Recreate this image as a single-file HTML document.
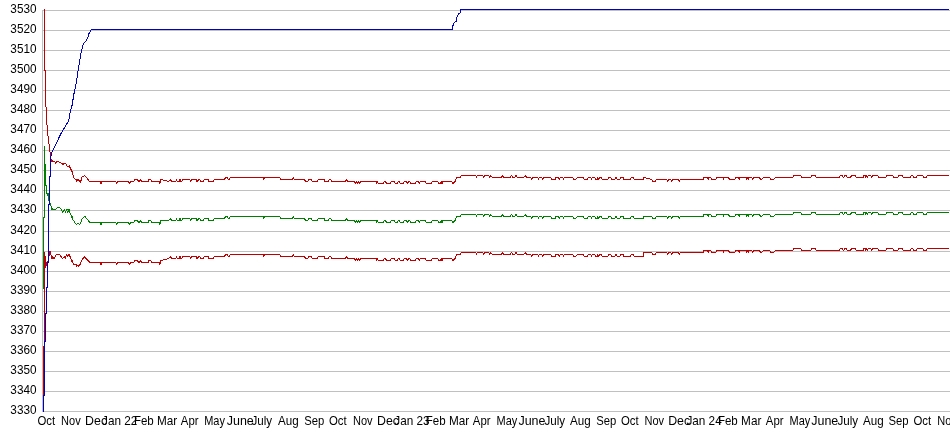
<!DOCTYPE html><html><head><meta charset="utf-8"><title>Chart</title><style>html,body{margin:0;padding:0;background:#fff}svg{display:block}text{font-family:"Liberation Sans",Arial,sans-serif;font-size:12px;fill:#000}</style></head><body>
<svg width="950" height="435" viewBox="0 0 950 435">
<rect width="950" height="435" fill="#fff"/>
<g shape-rendering="crispEdges" stroke="#c0c0c0" stroke-width="1" fill="none">
<line x1="43" y1="10.5" x2="950" y2="10.5"/>
<line x1="43" y1="30.5" x2="950" y2="30.5"/>
<line x1="43" y1="50.5" x2="950" y2="50.5"/>
<line x1="43" y1="70.5" x2="950" y2="70.5"/>
<line x1="43" y1="90.5" x2="950" y2="90.5"/>
<line x1="43" y1="110.5" x2="950" y2="110.5"/>
<line x1="43" y1="130.5" x2="950" y2="130.5"/>
<line x1="43" y1="150.5" x2="950" y2="150.5"/>
<line x1="43" y1="170.5" x2="950" y2="170.5"/>
<line x1="43" y1="190.5" x2="950" y2="190.5"/>
<line x1="43" y1="210.5" x2="950" y2="210.5"/>
<line x1="43" y1="231.5" x2="950" y2="231.5"/>
<line x1="43" y1="251.5" x2="950" y2="251.5"/>
<line x1="43" y1="271.5" x2="950" y2="271.5"/>
<line x1="43" y1="291.5" x2="950" y2="291.5"/>
<line x1="43" y1="311.5" x2="950" y2="311.5"/>
<line x1="43" y1="331.5" x2="950" y2="331.5"/>
<line x1="43" y1="351.5" x2="950" y2="351.5"/>
<line x1="43" y1="371.5" x2="950" y2="371.5"/>
<line x1="43" y1="391.5" x2="950" y2="391.5"/>
<line x1="43" y1="411.5" x2="950" y2="411.5"/>
<line x1="42.5" y1="10" x2="42.5" y2="412"/>
</g>
<g text-anchor="end">
<text transform="translate(36.5 13) scale(0.98 1)">3530</text>
<text transform="translate(36.5 33) scale(0.98 1)">3520</text>
<text transform="translate(36.5 53) scale(0.98 1)">3510</text>
<text transform="translate(36.5 73) scale(0.98 1)">3500</text>
<text transform="translate(36.5 93) scale(0.98 1)">3490</text>
<text transform="translate(36.5 113) scale(0.98 1)">3480</text>
<text transform="translate(36.5 133) scale(0.98 1)">3470</text>
<text transform="translate(36.5 153) scale(0.98 1)">3460</text>
<text transform="translate(36.5 173) scale(0.98 1)">3450</text>
<text transform="translate(36.5 193) scale(0.98 1)">3440</text>
<text transform="translate(36.5 213) scale(0.98 1)">3430</text>
<text transform="translate(36.5 234) scale(0.98 1)">3420</text>
<text transform="translate(36.5 254) scale(0.98 1)">3410</text>
<text transform="translate(36.5 274) scale(0.98 1)">3400</text>
<text transform="translate(36.5 294) scale(0.98 1)">3390</text>
<text transform="translate(36.5 314) scale(0.98 1)">3380</text>
<text transform="translate(36.5 334) scale(0.98 1)">3370</text>
<text transform="translate(36.5 354) scale(0.98 1)">3360</text>
<text transform="translate(36.5 374) scale(0.98 1)">3350</text>
<text transform="translate(36.5 394) scale(0.98 1)">3340</text>
<text transform="translate(36.5 414) scale(0.98 1)">3330</text>
</g>
<g>
<text transform="translate(37.50 424.5) scale(0.95 1)">Oct</text>
<text transform="translate(61.10 424.5) scale(0.92 1)">Nov</text>
<text transform="translate(85.10 424.5) scale(1.03 1)">Dec</text>
<text transform="translate(102.10 424.5) scale(0.98 1)">Jan 22</text>
<text transform="translate(133.90 424.5) scale(0.96 1)">Feb</text>
<text transform="translate(157.00 424.5) scale(0.98 1)">Mar</text>
<text transform="translate(180.80 424.5) scale(0.95 1)">Apr</text>
<text transform="translate(204.20 424.5) scale(0.915 1)">May</text>
<text transform="translate(226.75 424.5) scale(1.04 1)">June</text>
<text transform="translate(251.40 424.5) scale(0.97 1)">July</text>
<text transform="translate(278.00 424.5) scale(0.97 1)">Aug</text>
<text transform="translate(304.20 424.5) scale(0.94 1)">Sep</text>
<text transform="translate(329.00 424.5) scale(0.95 1)">Oct</text>
<text transform="translate(353.00 424.5) scale(0.92 1)">Nov</text>
<text transform="translate(377.00 424.5) scale(1.03 1)">Dec</text>
<text transform="translate(394.30 424.5) scale(0.98 1)">Jan 23</text>
<text transform="translate(425.70 424.5) scale(0.96 1)">Feb</text>
<text transform="translate(449.00 424.5) scale(0.98 1)">Mar</text>
<text transform="translate(472.80 424.5) scale(0.95 1)">Apr</text>
<text transform="translate(496.50 424.5) scale(0.915 1)">May</text>
<text transform="translate(518.45 424.5) scale(1.04 1)">June</text>
<text transform="translate(544.40 424.5) scale(0.97 1)">July</text>
<text transform="translate(570.00 424.5) scale(0.97 1)">Aug</text>
<text transform="translate(596.20 424.5) scale(0.94 1)">Sep</text>
<text transform="translate(621.00 424.5) scale(0.95 1)">Oct</text>
<text transform="translate(644.50 424.5) scale(0.92 1)">Nov</text>
<text transform="translate(668.20 424.5) scale(1.03 1)">Dec</text>
<text transform="translate(686.40 424.5) scale(0.98 1)">Jan 24</text>
<text transform="translate(717.90 424.5) scale(0.96 1)">Feb</text>
<text transform="translate(741.10 424.5) scale(0.98 1)">Mar</text>
<text transform="translate(765.80 424.5) scale(0.95 1)">Apr</text>
<text transform="translate(789.50 424.5) scale(0.915 1)">May</text>
<text transform="translate(811.25 424.5) scale(1.04 1)">June</text>
<text transform="translate(837.40 424.5) scale(0.97 1)">July</text>
<text transform="translate(863.00 424.5) scale(0.97 1)">Aug</text>
<text transform="translate(888.50 424.5) scale(0.94 1)">Sep</text>
<text transform="translate(913.50 424.5) scale(0.95 1)">Oct</text>
<text transform="translate(937.30 424.5) scale(0.92 1)">Nov</text>
</g>
<g shape-rendering="crispEdges" stroke-width="1" fill="none" stroke-linejoin="bevel">
<polyline stroke="#c00000" points="43.5,9.5 44.5,9.5 44.5,70.5 45.5,70.5 45.5,106.5 46.5,107.5 46.5,124.5 47.5,125.5 47.5,135.5 48.5,136.5 48.5,143.5 49.5,144.5 49.5,151.5 50.5,152.5 50.5,158.5 51.2,159.5 53.5,161.5 54.8,161.5 55.5,163.3 56.7,161.2 58.5,161.2 60.1,162.9 62.2,163.3 62.7,165.2 63.6,163.3 65.5,163.6 67.3,166.1 68.5,167.1 69.3,165.6 70.5,167.9 71.9,172.1 72.8,173.9 74.2,178.5 76.3,179.6 76.6,181.7 77.9,179.6 79.2,180.8 80.6,183.1 81.5,177.6 84.3,175.6 86.1,177.1 89.4,181.3 90.0,181.5 100.0,181.5 101.0,183.5 102.0,181.5 115.7,181.5 116.7,183.5 117.7,181.5 128.5,181.5 129.5,183.5 130.5,181.5 133.5,181.5 134.8,179.5 137.3,179.5 138.6,181.5 139.5,181.5 140.5,179.5 141.8,181.5 148.0,181.5 148.7,179.5 150.6,179.5 151.9,181.5 159.4,181.5 160.0,183.5 160.6,179.5 168.8,181.5 170.4,179.5 171.6,181.5 175.8,181.5 176.4,179.5 177.3,181.5 179.0,181.5 180.0,179.5 180.9,181.5 181.7,181.5 182.5,179.5 189.7,179.5 190.6,181.5 191.4,179.5 196.0,179.5 196.7,181.5 197.7,181.5 198.3,179.5 199.8,179.5 200.5,181.5 203.6,181.5 204.2,179.5 208.0,179.5 208.7,181.5 213.4,181.5 214.4,179.5 224.5,179.5 225.7,177.5 227.0,177.5 228.3,179.5 229.3,179.5 230.2,177.5 263.0,177.5 263.7,179.5 264.3,177.5 279.8,177.5 280.5,179.5 292.0,179.5 293.3,177.5 294.5,179.5 304.7,179.5 305.3,181.5 307.8,181.5 308.4,179.5 311.6,179.5 312.2,181.5 317.3,181.5 318.3,179.5 324.2,179.5 324.9,181.5 328.0,181.5 329.3,179.5 330.6,179.5 331.6,181.5 345.1,181.5 346.4,179.5 347.6,181.5 354.6,181.5 355.5,183.5 356.5,181.5 357.4,183.5 358.4,181.5 359.6,183.5 360.9,181.5 376.1,181.5 376.7,183.5 377.3,181.5 378.4,183.5 383.0,183.5 384.3,181.5 385.6,181.5 386.4,183.5 390.0,183.5 391.3,181.5 394.4,181.5 395.3,183.5 397.0,183.5 398.2,181.5 399.2,181.5 400.2,183.5 403.2,183.5 404.4,181.5 406.3,181.5 407.6,183.5 408.8,181.5 409.5,181.5 410.7,183.5 415.2,183.5 416.4,181.5 418.7,181.5 419.3,183.5 420.2,181.5 425.3,181.5 426.5,183.5 431.0,183.5 432.6,181.5 437.9,181.5 438.9,183.5 440.5,183.5 441.1,181.5 442.0,183.5 443.0,181.5 451.8,181.5 453.1,183.5 455.0,181.5 456.9,177.5 460.0,177.5 461.6,175.5 475.9,175.5 476.5,177.5 477.4,175.5 482.8,175.5 483.7,177.5 485.0,175.5 488.5,175.5 489.8,177.5 490.8,175.5 492.3,177.5 501.1,177.5 502.4,175.5 503.7,177.5 510.0,177.5 511.5,175.5 513.1,177.5 514.4,177.5 516.0,175.5 517.6,177.5 523.8,177.5 525.3,175.5 527.0,177.5 530.7,177.5 531.6,179.5 532.6,177.5 537.7,177.5 538.6,179.5 539.2,177.5 541.7,177.5 542.8,179.5 544.0,177.5 550.6,177.5 551.6,179.5 555.1,179.5 556.0,177.5 558.6,177.5 559.4,179.5 560.2,177.5 562.7,177.5 563.6,179.5 564.2,177.5 572.5,177.5 573.7,179.5 575.6,179.5 577.5,177.5 583.2,177.5 584.5,179.5 587.0,179.5 588.3,177.5 590.8,177.5 591.4,179.5 592.3,177.5 594.8,177.5 595.9,179.5 597.1,179.5 597.7,177.5 598.6,179.5 599.6,177.5 601.5,177.5 602.4,179.5 607.9,179.5 609.1,177.5 610.8,177.5 611.7,179.5 614.8,179.5 616.1,177.5 617.3,179.5 619.9,179.5 621.1,177.5 623.0,177.5 623.9,179.5 630.0,179.5 631.3,177.5 633.1,177.5 634.4,179.5 643.2,179.5 644.0,177.5 651.6,179.5 652.6,181.5 655.2,181.5 656.4,179.5 666.8,179.5 667.6,181.5 668.4,179.5 670.6,179.5 671.6,181.5 672.9,179.5 678.6,179.5 679.4,181.5 680.2,179.5 703.2,179.5 703.8,177.5 707.6,177.5 708.3,179.5 708.9,177.5 710.8,177.5 711.8,179.5 715.9,179.5 717.1,177.5 722.8,177.5 723.4,179.5 724.0,177.5 728.5,177.5 729.5,179.5 734.8,179.5 735.8,177.5 738.6,177.5 739.2,179.5 739.9,177.5 746.2,177.5 746.8,179.5 747.5,177.5 748.1,179.5 749.0,177.5 751.9,177.5 752.8,179.5 753.8,177.5 759.6,177.5 760.4,179.5 761.9,179.5 763.2,177.5 769.5,177.5 770.7,179.5 773.9,179.5 775.2,177.5 792.9,177.5 794.1,175.5 800.5,175.5 801.7,177.5 810.6,177.5 811.6,175.5 815.4,175.5 816.3,177.5 839.0,177.5 840.3,175.5 842.2,175.5 843.4,177.5 845.0,175.5 846.0,175.5 847.2,177.5 850.4,177.5 851.7,175.5 855.1,175.5 856.1,177.5 863.0,177.5 863.9,175.5 865.2,175.5 865.8,177.5 866.4,175.5 867.2,177.5 868.1,175.5 870.6,175.5 871.9,177.5 873.1,175.5 877.6,175.5 878.8,177.5 885.6,177.5 886.9,175.5 892.6,175.5 893.8,177.5 897.6,177.5 898.9,175.5 902.1,175.5 903.3,177.5 910.3,177.5 911.5,175.5 912.8,175.5 913.7,177.5 916.0,177.5 917.2,175.5 922.9,175.5 923.8,177.5 926.3,177.5 927.3,175.5 949.0,175.5"/>
<polyline stroke="#c00000" points="43.5,395.5 43.5,346.5 44.5,346.5 44.5,252.5 45.5,259.5 45.5,267.5 46.5,263.5 47.5,261.6 48.5,261.6 49.5,251.5 50.7,254.7 52.5,257.8 54.5,258.5 56.4,254.3 59.5,254.3 60.9,256.5 62.5,258.5 64.5,256.5 65.3,258.5 66.5,254.7 67.8,256.5 69.5,254.7 70.3,257.2 71.9,261.6 73.5,264.1 76.5,264.4 76.7,266.4 77.9,264.8 78.9,266.4 80.2,264.1 82.5,259.1 84.5,256.8 87.4,259.7 89.9,262.5 90.0,262.5 100.0,262.5 101.0,264.5 102.0,262.5 115.7,262.5 116.7,264.5 117.7,262.5 128.5,262.5 129.5,264.5 130.5,262.5 133.5,262.5 134.8,260.5 137.3,260.5 138.6,262.5 139.5,262.5 140.5,260.5 141.8,262.5 148.0,262.5 148.7,260.5 150.6,260.5 151.9,262.5 159.4,262.5 160.0,264.5 160.6,260.5 168.8,258.5 170.4,256.5 171.6,258.5 175.8,258.5 176.4,256.5 177.3,258.5 179.0,258.5 180.0,256.5 180.9,258.5 181.7,258.5 182.5,256.5 189.7,256.5 190.6,258.5 191.4,256.5 196.0,256.5 196.7,258.5 197.7,258.5 198.3,256.5 199.8,256.5 200.5,258.5 203.6,258.5 204.2,256.5 208.0,256.5 208.7,258.5 213.4,258.5 214.4,256.5 224.5,256.5 225.7,254.5 227.0,254.5 228.3,256.5 229.3,256.5 230.2,254.5 263.0,254.5 263.7,256.5 264.3,254.5 279.8,254.5 280.5,256.5 292.0,256.5 293.3,254.5 294.5,256.5 304.7,256.5 305.3,258.5 307.8,258.5 308.4,256.5 311.6,256.5 312.2,258.5 317.3,258.5 318.3,256.5 324.2,256.5 324.9,258.5 328.0,258.5 329.3,256.5 330.6,256.5 331.6,258.5 345.1,258.5 346.4,256.5 347.6,258.5 354.6,258.5 355.5,260.5 356.5,258.5 357.4,260.5 358.4,258.5 359.6,260.5 360.9,258.5 376.1,258.5 376.7,260.5 377.3,258.5 378.4,260.5 383.0,260.5 384.3,258.5 385.6,258.5 386.4,260.5 390.0,260.5 391.3,258.5 394.4,258.5 395.3,260.5 397.0,260.5 398.2,258.5 399.2,258.5 400.2,260.5 403.2,260.5 404.4,258.5 406.3,258.5 407.6,260.5 408.8,258.5 409.5,258.5 410.7,260.5 415.2,260.5 416.4,258.5 418.7,258.5 419.3,260.5 420.2,258.5 425.3,258.5 426.5,260.5 431.0,260.5 432.6,258.5 437.9,258.5 438.9,260.5 440.5,260.5 441.1,258.5 442.0,260.5 443.0,258.5 451.8,258.5 453.1,260.5 455.0,258.5 456.9,254.5 460.0,254.5 461.6,252.5 475.9,252.5 476.5,254.5 477.4,252.5 482.8,252.5 483.7,254.5 485.0,252.5 488.5,252.5 489.8,254.5 490.8,252.5 492.3,254.5 501.1,254.5 502.4,252.5 503.7,254.5 510.0,254.5 511.5,252.5 513.1,254.5 514.4,254.5 516.0,252.5 517.6,254.5 523.8,254.5 525.3,252.5 527.0,254.5 530.7,254.5 531.6,256.5 532.6,254.5 537.7,254.5 538.6,256.5 539.2,254.5 541.7,254.5 542.8,256.5 544.0,254.5 550.6,254.5 551.6,256.5 555.1,256.5 556.0,254.5 558.6,254.5 559.4,256.5 560.2,254.5 562.7,254.5 563.6,256.5 564.2,254.5 572.5,254.5 573.7,256.5 575.6,256.5 577.5,254.5 583.2,254.5 584.5,256.5 587.0,256.5 588.3,254.5 590.8,254.5 591.4,256.5 592.3,254.5 594.8,254.5 595.9,256.5 597.1,256.5 597.7,254.5 598.6,256.5 599.6,254.5 601.5,254.5 602.4,256.5 607.9,256.5 609.1,254.5 610.8,254.5 611.7,256.5 614.8,256.5 616.1,254.5 617.3,256.5 619.9,256.5 621.1,254.5 623.0,254.5 623.9,256.5 630.0,256.5 631.3,254.5 633.1,254.5 634.4,256.5 643.2,256.5 644.0,252.5 651.6,252.5 652.6,254.5 655.2,254.5 656.4,252.5 666.8,252.5 667.6,254.5 668.4,252.5 670.6,252.5 671.6,254.5 672.9,252.5 678.6,252.5 679.4,254.5 680.2,252.5 703.2,252.5 703.8,250.5 707.6,250.5 708.3,252.5 708.9,250.5 710.8,250.5 711.8,252.5 715.9,252.5 717.1,250.5 722.8,250.5 723.4,252.5 724.0,250.5 728.5,250.5 729.5,252.5 734.8,252.5 735.8,250.5 738.6,250.5 739.2,252.5 739.9,250.5 746.2,250.5 746.8,252.5 747.5,250.5 748.1,252.5 749.0,250.5 751.9,250.5 752.8,252.5 753.8,250.5 759.6,250.5 760.4,252.5 761.9,252.5 763.2,250.5 769.5,250.5 770.7,252.5 773.9,252.5 775.2,250.5 792.9,250.5 794.1,248.5 800.5,248.5 801.7,250.5 810.6,250.5 811.6,248.5 815.4,248.5 816.3,250.5 839.0,250.5 840.3,248.5 842.2,248.5 843.4,250.5 845.0,248.5 846.0,248.5 847.2,250.5 850.4,250.5 851.7,248.5 855.1,248.5 856.1,250.5 863.0,250.5 863.9,248.5 865.2,248.5 865.8,250.5 866.4,248.5 867.2,250.5 868.1,248.5 870.6,248.5 871.9,250.5 873.1,248.5 877.6,248.5 878.8,250.5 885.6,250.5 886.9,248.5 892.6,248.5 893.8,250.5 897.6,250.5 898.9,248.5 902.1,248.5 903.3,250.5 910.3,250.5 911.5,248.5 912.8,248.5 913.7,250.5 916.0,250.5 917.2,248.5 922.9,248.5 923.8,250.5 926.3,250.5 927.3,248.5 949.0,248.5"/>
<g stroke="none">
<polygon fill="#c00000" points="51,159 51,162 54,162"/>
<polygon fill="#c00000" points="66.8,166.6 69.8,165 69.8,168"/>
<polygon fill="#c00000" points="71,171 72.8,171 72.8,174"/>
<polygon fill="#c00000" points="49,251 51,251 51,255 50,255"/>
<polygon fill="#c00000" points="51,256 51,258.6 55,258.6 53,256.4"/>
<polygon fill="#c00000" points="67.5,254 69.5,254 69.5,257"/>
<polygon fill="#c00000" points="71,260 72.8,260 72.8,263"/>
</g>
<polyline stroke="#008000" points="43.5,288.5 43.5,217.5 44.5,217.5 44.5,145.5 44.5,163.5 45.5,164.5 45.5,185.5 46.5,185.5 46.5,193.5 47.5,193.5 48.5,194.5 48.5,199.5 49.5,202.5 50.5,204.5 51.5,207.5 52.5,209.5 55.5,209.5 57.5,207.5 59.5,207.5 61.5,209.5 62.5,212.5 64.5,209.5 65.3,212.5 66.5,209.5 67.8,212.5 68.8,210.5 70.3,213.5 72.2,218.5 74.8,222.5 76.7,224.5 77.9,223.5 79.8,224.5 82.4,218.5 84.9,216.5 87.4,219.5 89.9,222.5 90.0,222.5 100.0,222.5 101.0,224.5 102.0,222.5 115.7,222.5 116.7,224.5 117.7,222.5 128.5,222.5 129.5,224.5 130.5,222.5 133.5,222.5 134.8,220.5 137.3,220.5 138.6,222.5 139.5,222.5 140.5,220.5 141.8,222.5 148.0,222.5 148.7,220.5 150.6,220.5 151.9,222.5 159.4,222.5 160.0,224.5 160.6,220.5 168.8,220.5 170.4,218.5 171.6,220.5 175.8,220.5 176.4,218.5 177.3,220.5 179.0,220.5 180.0,218.5 180.9,220.5 181.7,220.5 182.5,218.5 189.7,218.5 190.6,220.5 191.4,218.5 196.0,218.5 196.7,220.5 197.7,220.5 198.3,218.5 199.8,218.5 200.5,220.5 203.6,220.5 204.2,218.5 208.0,218.5 208.7,220.5 213.4,220.5 214.4,218.5 224.5,218.5 225.7,216.5 227.0,216.5 228.3,218.5 229.3,218.5 230.2,216.5 263.0,216.5 263.7,218.5 264.3,216.5 279.8,216.5 280.5,218.5 292.0,218.5 293.3,216.5 294.5,218.5 304.7,218.5 305.3,220.5 307.8,220.5 308.4,218.5 311.6,218.5 312.2,220.5 317.3,220.5 318.3,218.5 324.2,218.5 324.9,220.5 328.0,220.5 329.3,218.5 330.6,218.5 331.6,220.5 345.1,220.5 346.4,218.5 347.6,220.5 354.6,220.5 355.5,222.5 356.5,220.5 357.4,222.5 358.4,220.5 359.6,222.5 360.9,220.5 376.1,220.5 376.7,222.5 377.3,220.5 378.4,222.5 383.0,222.5 384.3,220.5 385.6,220.5 386.4,222.5 390.0,222.5 391.3,220.5 394.4,220.5 395.3,222.5 397.0,222.5 398.2,220.5 399.2,220.5 400.2,222.5 403.2,222.5 404.4,220.5 406.3,220.5 407.6,222.5 408.8,220.5 409.5,220.5 410.7,222.5 415.2,222.5 416.4,220.5 418.7,220.5 419.3,222.5 420.2,220.5 425.3,220.5 426.5,222.5 431.0,222.5 432.6,220.5 437.9,220.5 438.9,222.5 440.5,222.5 441.1,220.5 442.0,222.5 443.0,220.5 451.8,220.5 453.1,222.5 455.0,220.5 456.9,216.5 460.0,216.5 461.6,214.5 475.9,214.5 476.5,216.5 477.4,214.5 482.8,214.5 483.7,216.5 485.0,214.5 488.5,214.5 489.8,216.5 490.8,214.5 492.3,216.5 501.1,216.5 502.4,214.5 503.7,216.5 510.0,216.5 511.5,214.5 513.1,216.5 514.4,216.5 516.0,214.5 517.6,216.5 523.8,216.5 525.3,214.5 527.0,216.5 530.7,216.5 531.6,218.5 532.6,216.5 537.7,216.5 538.6,218.5 539.2,216.5 541.7,216.5 542.8,218.5 544.0,216.5 550.6,216.5 551.6,218.5 555.1,218.5 556.0,216.5 558.6,216.5 559.4,218.5 560.2,216.5 562.7,216.5 563.6,218.5 564.2,216.5 572.5,216.5 573.7,218.5 575.6,218.5 577.5,216.5 583.2,216.5 584.5,218.5 587.0,218.5 588.3,216.5 590.8,216.5 591.4,218.5 592.3,216.5 594.8,216.5 595.9,218.5 597.1,218.5 597.7,216.5 598.6,218.5 599.6,216.5 601.5,216.5 602.4,218.5 607.9,218.5 609.1,216.5 610.8,216.5 611.7,218.5 614.8,218.5 616.1,216.5 617.3,218.5 619.9,218.5 621.1,216.5 623.0,216.5 623.9,218.5 630.0,218.5 631.3,216.5 633.1,216.5 634.4,218.5 643.2,218.5 644.0,216.5 651.6,216.5 652.6,218.5 655.2,218.5 656.4,216.5 666.8,216.5 667.6,218.5 668.4,216.5 670.6,216.5 671.6,218.5 672.9,216.5 678.6,216.5 679.4,218.5 680.2,216.5 703.2,216.5 703.8,214.5 707.6,214.5 708.3,216.5 708.9,214.5 710.8,214.5 711.8,216.5 715.9,216.5 717.1,214.5 722.8,214.5 723.4,216.5 724.0,214.5 728.5,214.5 729.5,216.5 734.8,216.5 735.8,214.5 738.6,214.5 739.2,216.5 739.9,214.5 746.2,214.5 746.8,216.5 747.5,214.5 748.1,216.5 749.0,214.5 751.9,214.5 752.8,216.5 753.8,214.5 759.6,214.5 760.4,216.5 761.9,216.5 763.2,214.5 769.5,214.5 770.7,216.5 773.9,216.5 775.2,214.5 792.9,214.5 794.1,212.5 800.5,212.5 801.7,214.5 810.6,214.5 811.6,212.5 815.4,212.5 816.3,214.5 839.0,214.5 840.3,212.5 842.2,212.5 843.4,214.5 845.0,212.5 846.0,212.5 847.2,214.5 850.4,214.5 851.7,212.5 855.1,212.5 856.1,214.5 863.0,214.5 863.9,212.5 865.2,212.5 865.8,214.5 866.4,212.5 867.2,214.5 868.1,212.5 870.6,212.5 871.9,214.5 873.1,212.5 877.6,212.5 878.8,214.5 885.6,214.5 886.9,212.5 892.6,212.5 893.8,214.5 897.6,214.5 898.9,212.5 902.1,212.5 903.3,214.5 910.3,214.5 911.5,212.5 912.8,212.5 913.7,214.5 916.0,214.5 917.2,212.5 922.9,212.5 923.8,214.5 926.3,214.5 927.3,212.5 949.0,212.5"/>
<g stroke="none">
<polygon fill="#008000" points="51,206.5 51,210 54.2,210"/>
<polygon fill="#008000" points="67.3,209.3 69.6,209.3 69.6,212.3"/>
<polygon fill="#008000" points="71.3,216 72.8,216 72.8,219"/>
<polygon fill="#008000" points="47,193 48.8,193 48.8,199 48,199"/>
</g>
<polyline stroke="#0000c0" points="43.5,411.5 43.5,395.5 44.5,395.5 44.5,341.5 45.5,341.5 45.5,313.5 46.5,313.5 46.5,287.5 47.5,287.5 47.5,262.5 48.5,262.5 48.5,204.5 49.5,204.5 49.5,176.5 50.5,176.5 50.5,158.5 51.9,152.4 56.7,142.5 60.8,133.8 65.5,126.2 68.7,120.7 70.5,110.3 72.1,105.2 73.9,94.1 76.5,81.7 78.1,70.7 80.1,58.3 81.2,51.5 82.9,45.5 84.3,42.5 86.3,40.7 88.1,37.2 89.1,33.1 91.5,29.5 452.5,29.5 452.5,26.7 454.4,22.5 456.7,21.2 456.7,17.5 458.5,13.8 460.4,12.9 460.4,9.5 948.5,9.5"/>
</g>
</svg></body></html>
